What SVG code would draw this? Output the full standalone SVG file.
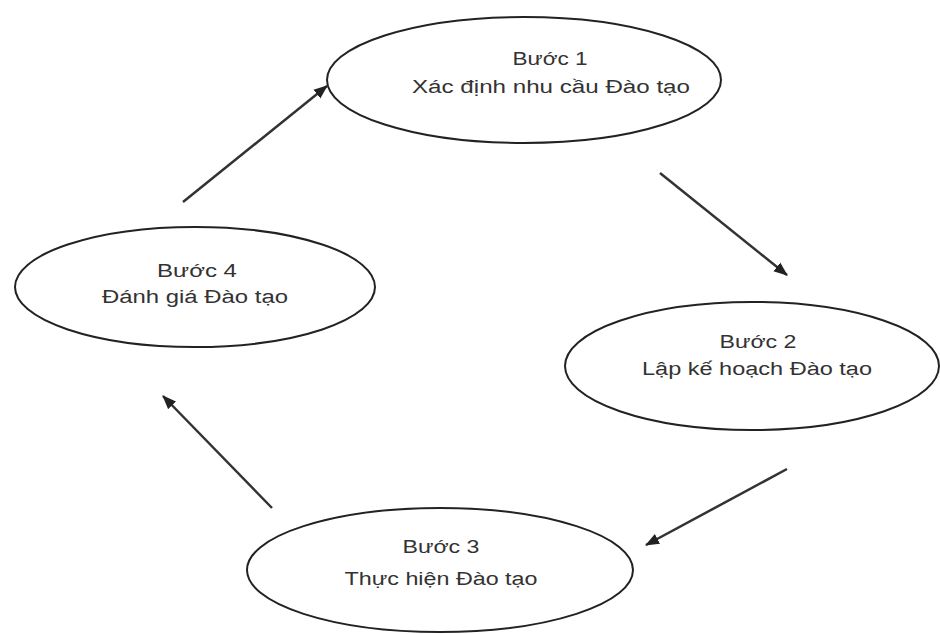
<svg xmlns="http://www.w3.org/2000/svg" width="940" height="634" viewBox="0 0 940 634">
<style>
.node ellipse{fill:#fff;stroke:#222;stroke-width:2}
.node text{font-family:"Liberation Sans",Arial,sans-serif;font-size:18px;fill:#333;text-anchor:middle}
.conn line{stroke:#333;stroke-width:2.5;marker-end:url(#ah)}
</style>
<defs>
<marker id="ah" markerUnits="userSpaceOnUse" markerWidth="14" markerHeight="12" refX="13" refY="5.5" orient="auto" viewBox="0 0 14 11">
<path d="M0,0 L14,5.5 L0,11 z" fill="#222"/>
</marker>
</defs>
<rect width="940" height="634" fill="#fff"/>
<g id="step1" class="node">
<ellipse cx="524" cy="80" rx="197" ry="63"/>
<text x="550" y="65" textLength="75" lengthAdjust="spacingAndGlyphs">Bước 1</text>
<text x="551" y="93" textLength="278" lengthAdjust="spacingAndGlyphs">Xác định nhu cầu Đào tạo</text>
</g>
<g id="step2" class="node">
<ellipse cx="752" cy="366" rx="187" ry="64"/>
<text x="758" y="348" textLength="77" lengthAdjust="spacingAndGlyphs">Bước 2</text>
<text x="757" y="375" textLength="230" lengthAdjust="spacingAndGlyphs">Lập kế hoạch Đào tạo</text>
</g>
<g id="step3" class="node">
<ellipse cx="440" cy="570" rx="193" ry="62"/>
<text x="441" y="553" textLength="77" lengthAdjust="spacingAndGlyphs">Bước 3</text>
<text x="441" y="585" textLength="193" lengthAdjust="spacingAndGlyphs">Thực hiện Đào tạo</text>
</g>
<g id="step4" class="node">
<ellipse cx="195" cy="287" rx="180" ry="60"/>
<text x="197" y="277" textLength="80" lengthAdjust="spacingAndGlyphs">Bước 4</text>
<text x="195" y="303" textLength="186" lengthAdjust="spacingAndGlyphs">Đánh giá Đào tạo</text>
</g>
<g id="connectors" class="conn">
<line x1="183" y1="202" x2="327" y2="86"/>
<line x1="660" y1="173" x2="787" y2="275"/>
<line x1="787" y1="469" x2="646" y2="545"/>
<line x1="272" y1="508" x2="163" y2="396"/>
</g>
</svg>
